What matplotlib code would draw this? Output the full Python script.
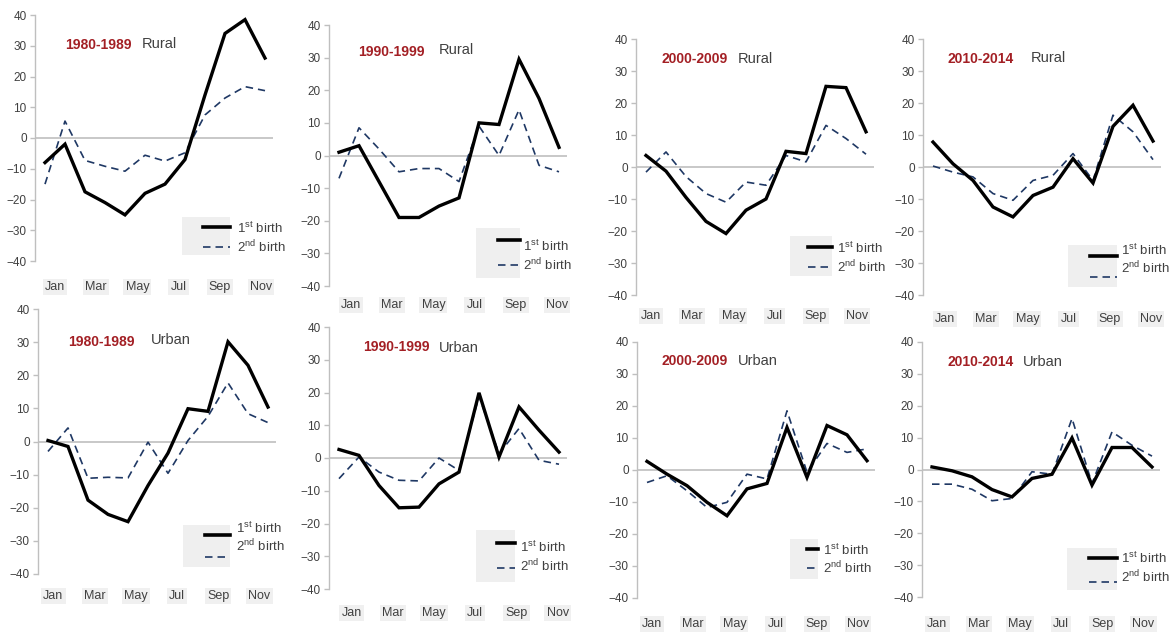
import matplotlib
matplotlib.use('Agg')
import matplotlib.pyplot as plt
from matplotlib.lines import Line2D
from matplotlib.patches import Rectangle
from matplotlib import font_manager

# ---------------- data ----------------
months = list(range(12))
month_labels = ['Jan', 'Mar', 'May', 'Jul', 'Sep', 'Nov']
periods = ['1980-1989', '1990-1999', '2000-2009', '2010-2014']
areas = ['Rural', 'Urban']

rural_1980_first = [-8, -2, -17.5, -21, -25, -18, -15, -7, 14, 34, 38.5, 26]
rural_1980_second = [-15, 5.5, -7.3, -9.2, -10.8, -5.6, -7.5, -4.8, 7.5, 13, 16.7, 15.4]
rural_1990_first = [1, 3, -8, -19, -19, -15.5, -13, 10, 9.5, 29.5, 17.5, 2.5]
rural_1990_second = [-7, 8.5, 2, -5, -4, -4, -8, 9, 0, 14, -3, -5]
rural_2000_first = [3.6, -1.3, -9.5, -17, -20.8, -13.5, -10, 4.9, 4.2, 25.2, 24.8, 11]
rural_2000_second = [-1.6, 4.7, -3, -8.3, -11, -4.7, -5.7, 3.6, 1.6, 13, 8.9, 4]
rural_2010_first = [7.8, 1, -4.2, -12.5, -15.6, -8.9, -6.3, 2.6, -5, 12.7, 19.3, 8.1]
rural_2010_second = [0.3, -1.6, -3.1, -8.3, -10.4, -4.2, -2.6, 4.2, -4.2, 16.2, 11, 2.3]

urban_1980_first = [0.3, -1.5, -17.7, -22, -24.2, -13.3, -3.5, 9.9, 9.1, 30.1, 23, 10.4]
urban_1980_second = [-3, 4.1, -11.1, -10.8, -11, -0.2, -9.6, 0.3, 7.6, 17.7, 8.4, 5.7]
urban_1990_first = [2.6, 0.8, -8.4, -15.2, -15, -7.9, -4.3, 19.9, 0.3, 15.6, 8.5, 1.8]
urban_1990_second = [-6.3, 0.3, -4.3, -6.8, -7, 0, -3.8, 18.9, 1.3, 9, -0.7, -1.9]
urban_2000_first = [2.7, -1.3, -4.9, -10.1, -14.3, -5.9, -4.2, 13.3, -2.3, 13.9, 11, 2.9]
urban_2000_second = [-3.9, -1.8, -6.5, -11.7, -10.1, -1.3, -2.8, 18.5, -0.7, 8.3, 5.5, 6.6]
urban_2010_first = [0.8, -0.4, -2.3, -6.3, -8.6, -2.8, -1.5, 9.9, -4.9, 6.9, 6.9, 0.8]
urban_2010_second = [-4.6, -4.6, -6.2, -9.8, -9.1, -0.7, -1.5, 16, -4.4, 11.8, 7.6, 4.2]

series = [
    (rural_1980_first, rural_1980_second), (rural_1990_first, rural_1990_second),
    (rural_2000_first, rural_2000_second), (rural_2010_first, rural_2010_second),
    (urban_1980_first, urban_1980_second), (urban_1990_first, urban_1990_second),
    (urban_2000_first, urban_2000_second), (urban_2010_first, urban_2010_second),
]
legend_labels = [r'1$^{\rm st}$ birth', r'2$^{\rm nd}$ birth']

# ---------------- layout (pixels) ----------------
W, H = 1176, 637
# spine x, y(40), y(-40), month label centre y, first label offset (months)
geom = [
    (35, 15, 261, 288, 0.50), (329, 25, 286, 306, 0.60),
    (636, 39, 295, 317, 0.25), (923, 39, 295, 320, 0.60),
    (38, 309, 574, 597, 0.27), (329, 327, 589, 614, 0.63),
    (637, 342, 598, 625, 0.25), (922, 342, 597, 625, 0.27),
]
title_pos = [
    ((65, 45), (142, 44)), ((358, 52), (439, 50)),
    ((662, 59), (738, 59)), ((948, 59), (1031, 58)),
    ((68, 342), (151, 340)), ((363, 347), (439, 348)),
    ((662, 361), (738, 361)), ((947, 362), (1023, 362)),
]
# box (x0,y0,x1,y1), line x0,x1, line ys, text x, text ys
leg = [
    ((182, 217, 230, 255), (203, 230), (227, 247), 237, (228, 247)),
    ((476, 228, 520, 278), (498, 520), (240, 265), 523, (246, 265)),
    ((790, 236, 832, 276), (808, 832), (247, 267), 837, (248, 267)),
    ((1068, 245, 1117, 287), (1090, 1117), (256, 277), 1121, (250, 268)),
    ((183, 525, 230, 567), (205, 230), (535, 557), 236, (528, 546)),
    ((476, 530, 515, 582), (497, 515), (543, 568), 520, (547, 566)),
    ((790, 539, 818, 579), (807, 818), (549, 568), 823, (550, 568)),
    ((1067, 548, 1117, 590), (1089, 1117), (558, 582), 1121, (558, 577)),
]
STEP = 20.0

names = {f.name for f in font_manager.fontManager.ttflist}
base = 'Liberation Sans' if 'Liberation Sans' in names else 'DejaVu Sans'
narrow = 'Liberation Sans Narrow' if 'Liberation Sans Narrow' in names else base
plt.rcParams['font.family'] = [base, 'DejaVu Sans']
plt.rcParams['mathtext.fontset'] = 'custom'
plt.rcParams['mathtext.rm'] = base
plt.rcParams['mathtext.it'] = base + ':italic'

RED = '#a31f24'
GRAY_TXT = '#404040'
AX_GRAY = '#bfbfbf'
NAVY = '#1f3864'
BOX = '#efefef'

fig = plt.figure(figsize=(W / 100, H / 100), dpi=100)


def fx(x):
    return x / W


def fy(y):
    return 1 - y / H


for k, ((first, second), (sx, ytop, ybot, ly, loff)) in enumerate(zip(series, geom)):
    width = 11.9 * STEP
    ax = fig.add_axes([fx(sx), fy(ybot), width / W, (ybot - ytop) / H])
    ax.set_xlim(-0.5, 11.4)
    ax.set_ylim(-40, 40)
    ax.axhline(0, color=AX_GRAY, lw=1.2, zorder=1)
    ax.plot(months, second, color=NAVY, lw=1.2, dashes=(4.5, 3), zorder=2)
    ax.plot(months, first, color='black', lw=2.4, zorder=3, solid_joinstyle='miter')
    for s in ['top', 'right', 'bottom']:
        ax.spines[s].set_visible(False)
    ax.spines['left'].set_color(AX_GRAY)
    ax.spines['left'].set_linewidth(1.0)
    ax.set_yticks(range(-40, 41, 10))
    ax.tick_params(axis='y', length=3.5, width=1, color=AX_GRAY, pad=2.5,
                   labelsize=8.5, labelcolor=GRAY_TXT)
    ticks = [loff + 2.06 * i for i in range(6)]
    ax.set_xticks(ticks)
    pad_px = ly - ybot - 7
    ax.set_xticklabels(month_labels)
    ax.tick_params(axis='x', length=0, pad=pad_px * 0.72, labelsize=9,
                   labelcolor=GRAY_TXT)
    for lbl in ax.get_xticklabels():
        lbl.set_fontfamily(narrow)
        lbl.set_bbox(dict(facecolor='#f0f0f0', edgecolor='none', pad=1.5))
    ax.patch.set_alpha(0)

    # titles
    (t1x, t1y), (t2x, t2y) = title_pos[k]
    fig.text(fx(t1x), fy(t1y), periods[k % 4], color=RED, fontsize=10,
             fontweight='bold', va='center', ha='left')
    fig.text(fx(t2x), fy(t2y), areas[k // 4], color=GRAY_TXT, fontsize=10.5,
             va='center', ha='left')

    # legend
    (bx0, by0, bx1, by1), (lx0, lx1), (l1y, l2y), tx, (t1, t2) = leg[k]
    fig.add_artist(Rectangle((fx(bx0), fy(by1)), (bx1 - bx0) / W, (by1 - by0) / H,
                             transform=fig.transFigure, facecolor=BOX,
                             edgecolor='none', zorder=0))
    fig.add_artist(Line2D([fx(lx0), fx(lx1)], [fy(l1y), fy(l1y)],
                          transform=fig.transFigure, color='black', lw=2.6))
    fig.add_artist(Line2D([fx(lx0), fx(lx1)], [fy(l2y), fy(l2y)],
                          transform=fig.transFigure, color=NAVY, lw=1.2,
                          dashes=(4.5, 3)))
    fig.text(fx(tx), fy(t1), legend_labels[0], fontsize=9.5, color=GRAY_TXT,
             va='center', ha='left')
    fig.text(fx(tx), fy(t2), legend_labels[1], fontsize=9.5, color=GRAY_TXT,
             va='center', ha='left')

fig.savefig('out.png', dpi=100, facecolor='white')
